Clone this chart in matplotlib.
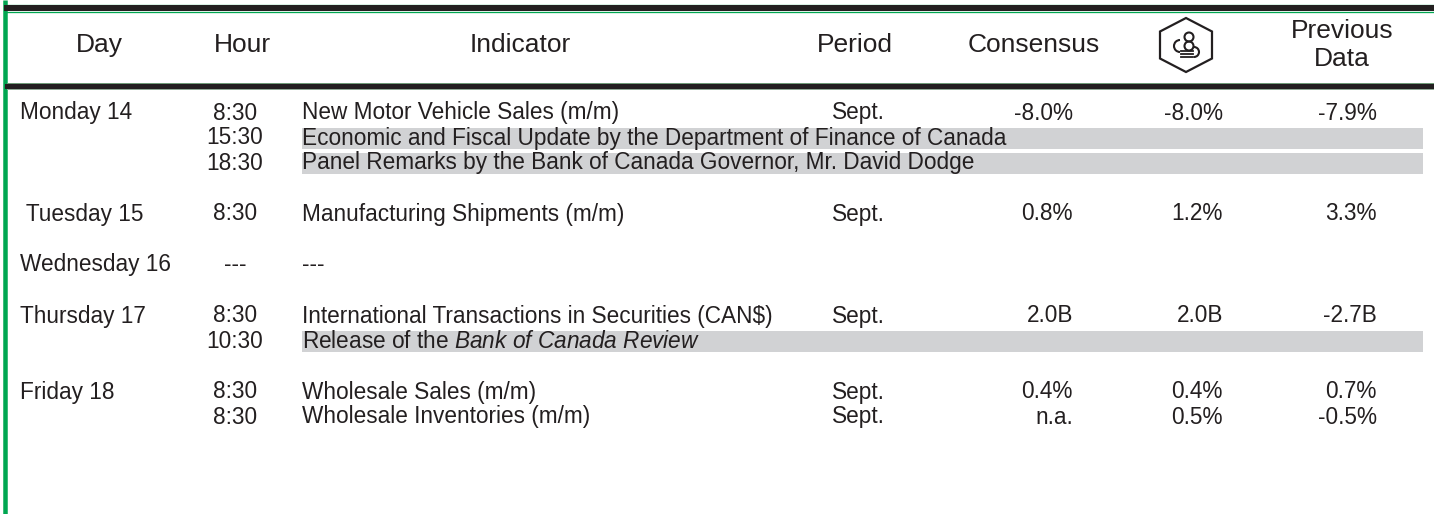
import matplotlib.pyplot as plt
from matplotlib.patches import Polygon, Circle, Arc

plt.rcParams['font.family'] = ['Liberation Sans', 'DejaVu Sans']
plt.rcParams['mathtext.fontset'] = 'custom'
plt.rcParams['mathtext.it'] = 'Liberation Sans:italic'
plt.rcParams['mathtext.rm'] = 'Liberation Sans'

# region Data
headers = ["Day", "Hour", "Indicator", "Period", "Consensus", "", "Previous\nData"]
days = ["Monday 14", "", "", " Tuesday 15", "Wednesday 16", "Thursday 17", "", "Friday 18", ""]
hours = ["8:30", "15:30", "18:30", "8:30", "---", "8:30", "10:30", "8:30", "8:30"]
indicators = ["New Motor Vehicle Sales (m/m)",
              "Economic and Fiscal Update by the Department of Finance of Canada",
              "Panel Remarks by the Bank of Canada Governor, Mr. David Dodge",
              "Manufacturing Shipments (m/m)",
              "---",
              "International Transactions in Securities (CAN$)",
              r"Release of the $\mathit{Bank\ of\ Canada\ Review}$",
              "Wholesale Sales (m/m)",
              "Wholesale Inventories (m/m)"]
periods = ["Sept.", "", "", "Sept.", "", "Sept.", "", "Sept.", "Sept."]
consensus = ["-8.0%", "", "", "0.8%", "", "2.0B", "", "0.4%", "n.a."]
forecast = ["-8.0%", "", "", "1.2%", "", "2.0B", "", "0.4%", "0.5%"]
previous = ["-7.9%", "", "", "3.3%", "", "-2.7B", "", "0.7%", "-0.5%"]
highlighted = [False, True, True, False, False, False, True, False, False]
# endregion

# layout (pixel coordinates)
W, H = 1434, 514
row_y = [113, 138, 163, 214, 265, 316, 341, 392, 417]
head_x = [99, 242, 520, 855, 1034, 1186, 1342]
green = "#00a651"
ink = "#231f20"
grey = "#d1d2d4"
fs_head = 19
fs_row = 16.3

fig = plt.figure(figsize=(W / 100, H / 100), dpi=100)
ax = fig.add_axes([0, 0, 1, 1])
ax.set_xlim(0, W)
ax.set_ylim(H, 0)
ax.axis("off")

# borders
ax.plot([5, 5], [0, H], color=green, lw=4.5 * 0.72, solid_capstyle="butt")
ax.plot([7, W], [4.5, 4.5], color=green, lw=1.3 * 0.72)
ax.plot([7, W], [8, 8], color=ink, lw=6 * 0.72)
ax.plot([7, W], [11.5, 11.5], color=green, lw=1.3 * 0.72)
ax.plot([7, W], [82.8, 82.8], color="#6f9a78", lw=1 * 0.72)
ax.plot([7, W], [86, 86], color=ink, lw=5 * 0.72)
ax.plot([7, W], [89.2, 89.2], color="#8fa894", lw=1 * 0.72)

# header
for x, h in zip(head_x, headers):
    lines = h.split("\n")
    for k, line in enumerate(lines):
        y = 45 + (k - (len(lines) - 1) / 2) * 28
        ax.text(x, y, line, ha="center", va="center", fontsize=fs_head, color=ink)

# logo: hexagon with stylised emblem
lx, ly = head_x[5], 45
hexa = [(lx, ly - 27), (lx + 26, ly - 13.5), (lx + 26, ly + 13.5),
        (lx, ly + 27), (lx - 26, ly + 13.5), (lx - 26, ly - 13.5)]
ax.add_patch(Polygon(hexa, closed=True, fill=False, ec=ink, lw=1.6))
ax.add_patch(Circle((lx + 3, ly - 8), 4.5, fill=False, ec=ink, lw=1.5))
ax.add_patch(Circle((lx + 3, ly + 1), 4.5, fill=False, ec=ink, lw=1.5))
ax.add_patch(Arc((lx - 6, ly + 1), 12, 12, theta1=90, theta2=270, ec=ink, lw=1.5))
ax.add_patch(Arc((lx + 8, ly + 7), 10, 10, theta1=-90, theta2=90, ec=ink, lw=1.5))
for dy in (6, 9, 12):
    ax.plot([lx - 5, lx + 7], [ly + dy, ly + dy], color=ink, lw=1.3)

# grey highlight bands
hl_y = [y + 0.5 for y, h in zip(row_y, highlighted) if h]
ax.barh(hl_y, [1423 - 302] * len(hl_y), left=302, height=21, color=grey, lw=0)

# rows
for i, y in enumerate(row_y):
    ax.text(20, y, days[i], ha="left", va="center", fontsize=fs_row, color=ink)
    ax.text(235, y, hours[i], ha="center", va="center", fontsize=fs_row, color=ink)
    ax.text(302, y, indicators[i], ha="left", va="center", fontsize=fs_row, color=ink)
    ax.text(858, y, periods[i], ha="center", va="center", fontsize=fs_row, color=ink)
    ax.text(1073, y, consensus[i], ha="right", va="center", fontsize=fs_row, color=ink)
    ax.text(1223, y, forecast[i], ha="right", va="center", fontsize=fs_row, color=ink)
    ax.text(1377, y, previous[i], ha="right", va="center", fontsize=fs_row, color=ink)

fig.savefig("out.png", dpi=100)
